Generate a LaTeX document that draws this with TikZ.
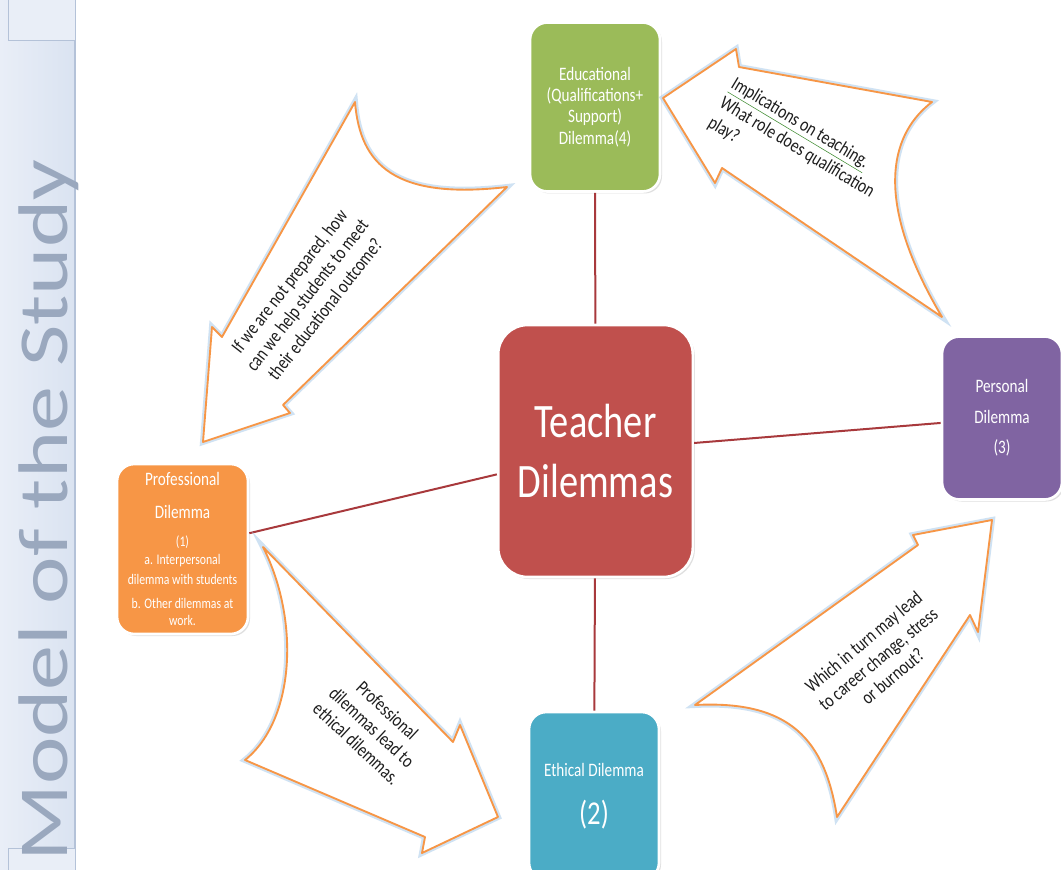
\documentclass[tikz,border=0pt]{standalone}
\usepackage{fontspec}
\usepackage{graphicx}
\setmainfont{Carlito}
\newfontfamily\boxfont[FakeStretch=0.8]{Carlito}
\usetikzlibrary{shadows}

\definecolor{dilred}{HTML}{C0504D}
\definecolor{dilgreen}{HTML}{9BBB59}
\definecolor{dilpurple}{HTML}{8064A2}
\definecolor{dilteal}{HTML}{4BACC6}
\definecolor{dilorange}{HTML}{F79646}
\definecolor{linkred}{HTML}{A8393C}
\definecolor{glowblue}{HTML}{A9CBEA}
\definecolor{inkc}{HTML}{1E1E1E}
\definecolor{spellgreen}{HTML}{3C8A2E}
\definecolor{titleblue}{HTML}{9AA8BE}
\definecolor{stripa}{HTML}{E9EEF7}
\definecolor{stripb}{HTML}{DAE3F1}
\definecolor{stripline}{HTML}{B4C2D8}

% smaller lines inside the professional box
\newcommand\profsmall{\fontsize{11}{12.75}\selectfont}

\tikzset{
  dilemma/.style={rounded corners=13pt, draw=white, line width=2pt, text=white,
    align=center, inner sep=0pt, font=\boxfont\fontsize{14.25}{16}\selectfont,
    drop shadow={opacity=0.25, shadow xshift=1.5pt, shadow yshift=-1.5pt}},
  link/.style={draw=linkred, line width=1.5pt},
  bigarrow/.style={fill=white, draw=dilorange, line width=1.4pt, line join=round,
    preaction={draw=glowblue, line width=4.5pt, opacity=0.55}},
  arrowtext/.style={text=inkc, align=center, inner sep=0pt,
    font=\boxfont\fontsize{14.5}{17}\selectfont}
}

\begin{document}
\begin{tikzpicture}[x=0.75pt,y=-0.75pt]
    \useasboundingbox (0,0) rectangle (1061,870);
    \clip (0,0) rectangle (1061,870);
    \fill[white] (0,0) rectangle (1061,870);

    % side strip with the title
    \fill[left color=stripa, right color=stripb] (0,0) rectangle (75,870);
    \draw[stripline, line width=0.8pt] (75,0) -- (75,870);
    \draw[stripline, fill=stripa] (8,-5) rectangle (75,40);
    \draw[stripline, fill=stripa] (8,848) rectangle (75,880);
    \node[rotate=90, anchor=base west, inner sep=0pt, text=titleblue,
          font=\fontsize{67.5}{67.5}\selectfont] (title) at (67,862)
          {\scalebox{1}[0.78]{Model of the Study}};

    % the five dilemmas
    \node[dilemma, fill=dilred, rounded corners=22pt, minimum width=146pt, minimum height=189pt,
          font=\boxfont\fontsize{36}{45}\selectfont] (teacher) at (595.5,451) {Teacher\\Dilemmas};
    \node[dilemma, fill=dilgreen, minimum width=97.5pt, minimum height=126.75pt]
          (edu) at (595,107) {Educational\\(Qualifications+\\Support)\\Dilemma(4)};
    \node[dilemma, fill=dilpurple, minimum width=90pt, minimum height=122.25pt]
          (pers) at (1002,418) {Personal\\[7pt]Dilemma\\[7pt](3)};
    \node[dilemma, fill=dilteal, minimum width=97.5pt, minimum height=126pt]
          (eth) at (594,796) {Ethical Dilemma\\[17pt]{\fontsize{25}{28}\selectfont (2)}};
    \node[dilemma, fill=dilorange, minimum width=98.25pt, minimum height=127.5pt]
          (prof) at (182.5,549) {Professional\\[9pt]Dilemma\\[5pt]\profsmall (1)\\[-3pt]
          \profsmall a. Interpersonal\\[-1pt]\profsmall dilemma with students\\[2pt]
          \profsmall b. Other dilemmas at\\[-3pt]\profsmall work.};

    \draw[link] (teacher) -- (edu);
    \draw[link] (teacher) -- (pers);
    \draw[link] (teacher) -- (eth);
    \draw[link] (teacher) -- (prof);

    % block arrows round the cycle
    \draw[bigarrow] (663,98) -- (736,49) -- (739,67) -- (932,102)
        .. controls (895,130) and (868,192) .. (942,317)
        -- (722,168) -- (715,183) -- cycle;
    \draw[bigarrow] (203,442) -- (212,327) -- (222,337) -- (355,102)
        .. controls (360,165) and (395,200) .. (507,187)
        -- (283,405) -- (290,413) -- cycle;
    \draw[bigarrow] (263,547) -- (453,742) -- (460,725) -- (498,817)
        -- (422,853) -- (425,837) -- (245,760)
        .. controls (295,720) and (300,620) .. (263,547) -- cycle;
    \draw[bigarrow] (992,520) -- (913,535) -- (918,545) -- (695,705)
        .. controls (790,700) and (825,740) .. (837,817)
        -- (970,615) -- (978,632) -- cycle;

    \node[arrowtext, rotate=-31, align=left] (qualtext) at (797,148)
        {{\color{spellgreen}\underline{\textcolor{inkc}{Implications on teaching.}}}\\What role does qualification\\play?};
    \node[arrowtext, rotate=52] (preptext) at (307,295)
        {If we are not prepared, how\\can we help students to meet\\their educational outcome?};
    \node[arrowtext, rotate=-43] (leadtext) at (372,727)
        {Professional\\dilemmas lead to\\ethical dilemmas.};
    \node[arrowtext, rotate=40] (burntext) at (878,659)
        {Which in turn may lead\\to career change, stress\\or burnout?};
\end{tikzpicture}
\end{document}
